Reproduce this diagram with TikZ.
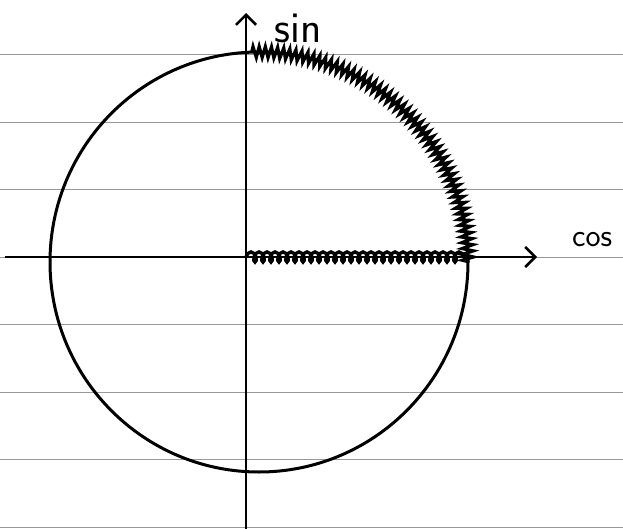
\documentclass[tikz,border=0pt]{standalone}
\usetikzlibrary{arrows.meta,decorations.pathmorphing}
\begin{document}
\begin{tikzpicture}[x=1pt,y=-1pt,
  paper/.style={line width=0.9pt, draw=black!40},
  axis/.style={line width=2.8pt, -{Straight Barb[length=10pt,width=20pt,line width=2.6pt]}},
  ring/.style={line width=3pt},
  scribble/.style={line width=3.4pt, decorate, decoration={coil, aspect=0.6, segment length=8pt, amplitude=5pt}},
  scribblearc/.style={line width=3.2pt, decorate, decoration={zigzag, segment length=6pt, amplitude=5.5pt}},
  lab/.style={font=\sffamily\fontsize{44}{44}\selectfont, inner sep=0pt}]
\useasboundingbox[fill=white] (0,0) rectangle (623,529);
\foreach \y in {54.5,122,189.5,257,324.5,392,459.5,527} \draw[paper] (0,\y) -- (623,\y);
\coordinate (O) at (246,257);
\coordinate (xl) at (5,257);
\coordinate (xr) at (537,257);
\coordinate (yb) at (246,529);
\coordinate (yt) at (246,13);
\coordinate (C) at (259,262);
\coordinate (P) at (468,257);
\draw[ring] (C) ellipse [x radius=209, y radius=210];
\draw[axis] (xl) -- (xr);
\draw[axis] (yb) -- (yt);
\draw[scribble] (O) -- (P);
\draw[scribblearc] (C) ++(-92:209 and 210) arc[start angle=-92, end angle=0, x radius=209, y radius=210];
\node[lab] (sinlab) at (298,28) {sin};
\node[lab, anchor=west, font=\sffamily\fontsize{32}{32}\selectfont] (coslab) at (572,240) {cos};
\end{tikzpicture}
\end{document}
